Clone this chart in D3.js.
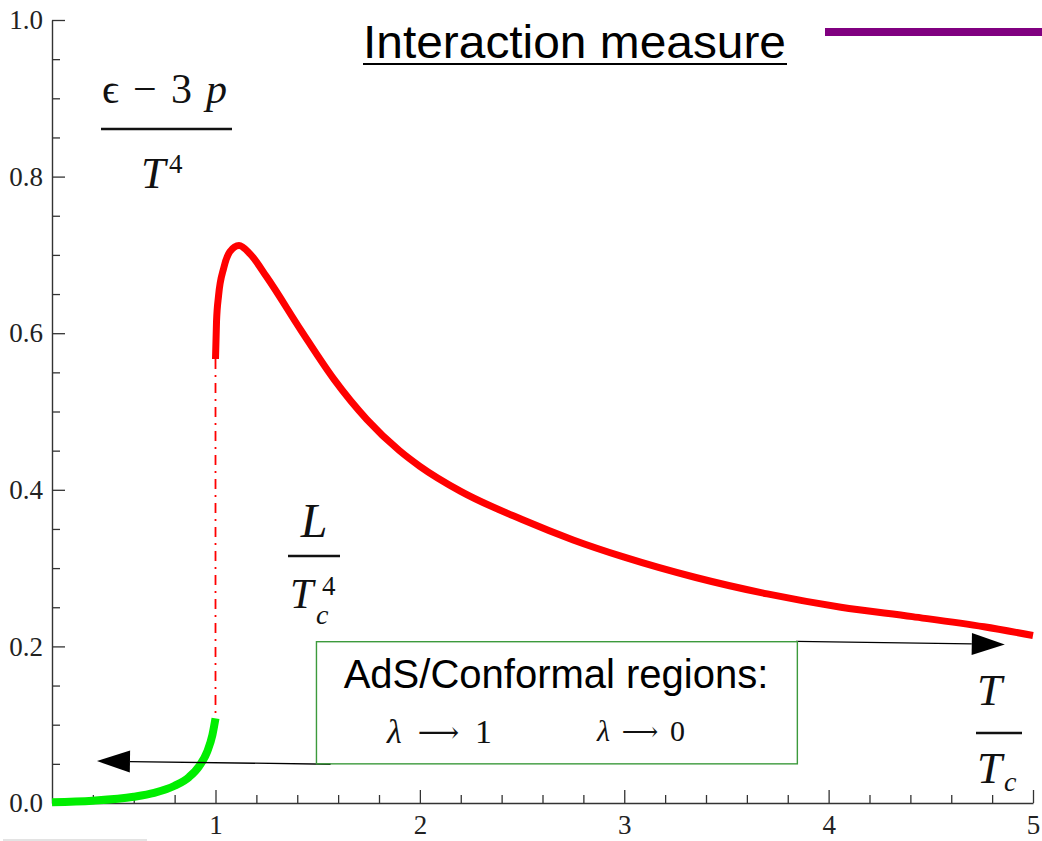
<!DOCTYPE html>
<html>
<head>
<meta charset="utf-8">
<script src="https://cdn.jsdelivr.net/npm/d3@7"></script>
<style>
  body { margin: 0; background: #fff; }
  svg { display: block; }
  .math { font-family: "Liberation Serif", "DejaVu Serif", serif; fill: #111; }
  .sans { font-family: "Liberation Sans", Arial, sans-serif; fill: #000; }
</style>
</head>
<body>
<div id="chart"></div>
<script>
// Chart values
const greenX = [0.2, 0.4, 0.6, 0.7, 0.8, 0.87, 0.92, 0.96, 0.985, 1.0];
const greenY = [0.001, 0.003, 0.008, 0.013, 0.022, 0.033, 0.047, 0.066, 0.087, 0.108];

const redX = [1.0, 1.005, 1.015, 1.04, 1.07, 1.115, 1.17, 1.25, 1.42, 1.58, 1.74, 1.9, 2.0, 2.2, 2.5, 2.75, 3.0, 3.35, 3.7, 4.06, 4.41, 4.76, 5.0];
const redY = [0.567, 0.615, 0.648, 0.683, 0.704, 0.712, 0.701, 0.672, 0.603, 0.541, 0.490, 0.450, 0.430, 0.398, 0.362, 0.336, 0.314, 0.288, 0.267, 0.250, 0.238, 0.225, 0.214];

// latent heat jump at Tc
const jumpX = 1.0;
const jumpY = [0.108, 0.567];

const xMajorTicks = [1, 2, 3, 4, 5];
const xMinorTicks = [0.4, 0.6, 0.8, 1.2, 1.4, 1.6, 1.8, 2.2, 2.4, 2.6, 2.8, 3.2, 3.4, 3.6, 3.8, 4.2, 4.4, 4.6, 4.8];
const yMajorTicks = [0, 0.2, 0.4, 0.6, 0.8, 1.0];
const yMinorTicks = [0.05, 0.1, 0.15, 0.25, 0.3, 0.35, 0.45, 0.5, 0.55, 0.65, 0.7, 0.75, 0.85, 0.9, 0.95];

const W = 1042, H = 841;

const svg = d3.select("#chart").append("svg")
    .attr("width", W)
    .attr("height", H);

svg.append("rect").attr("width", W).attr("height", H).attr("fill", "#fff");

const x = d3.scaleLinear().domain([0.2, 5]).range([52, 1033]);
const y = d3.scaleLinear().domain([0, 1]).range([803, 20]);

function serifLabels(g) {
    g.selectAll("text")
        .style("font-family", "'Liberation Serif', 'DejaVu Serif', serif")
        .style("font-size", "27px")
        .attr("fill", "#222");
}

// Axes (ticks point inward, Mathematica style)
svg.append("g")
    .attr("transform", `translate(0,${y(0)})`)
    .call(d3.axisBottom(x).tickValues(xMajorTicks).tickFormat(d3.format("d"))
        .tickSizeInner(-13).tickSizeOuter(0).tickPadding(12))
    .call(serifLabels);

svg.append("g")
    .attr("transform", `translate(0,${y(0)})`)
    .call(d3.axisBottom(x).tickValues(xMinorTicks).tickFormat("")
        .tickSizeInner(-8).tickSizeOuter(0))
    .call(g => g.select(".domain").remove());

svg.append("g")
    .attr("transform", `translate(${x(0.2)},0)`)
    .call(d3.axisLeft(y).tickValues(yMajorTicks).tickFormat(d3.format(".1f"))
        .tickSizeInner(-13).tickSizeOuter(0).tickPadding(9))
    .call(serifLabels);

svg.append("g")
    .attr("transform", `translate(${x(0.2)},0)`)
    .call(d3.axisLeft(y).tickValues(yMinorTicks).tickFormat("")
        .tickSizeInner(-8).tickSizeOuter(0))
    .call(g => g.select(".domain").remove());

svg.selectAll(".domain").attr("stroke", "#333").attr("stroke-width", 1.4);
svg.selectAll(".tick line").attr("stroke", "#333").attr("stroke-width", 1.3);

// faint line under the axis
svg.append("line")
    .attr("x1", 3).attr("x2", 147)
    .attr("y1", 840).attr("y2", 840)
    .attr("stroke", "#c8c8c8").attr("stroke-width", 1.2);

const line = d3.line()
    .x(d => x(d[0]))
    .y(d => y(d[1]))
    .curve(d3.curveMonotoneX);

// dash-dot jump
svg.append("line")
    .attr("x1", x(jumpX)).attr("x2", x(jumpX))
    .attr("y1", y(jumpY[1])).attr("y2", y(jumpY[0]))
    .attr("stroke", "#ff0000")
    .attr("stroke-width", 1.8)
    .attr("stroke-dasharray", "10,6,2,6");

svg.append("path")
    .datum(greenX.map((v, i) => [v, greenY[i]]))
    .attr("d", line)
    .attr("fill", "none")
    .attr("stroke", "#00ee00")
    .attr("stroke-width", 8);

svg.append("path")
    .datum(redX.map((v, i) => [v, redY[i]]))
    .attr("d", line)
    .attr("fill", "none")
    .attr("stroke", "#ff0000")
    .attr("stroke-width", 7);

// Annotation box and arrows
const box = { x0: 1.494, x1: 3.847, y0: 0.05, y1: 0.206 };

function arrow(from, to) {
    const x1 = x(from[0]), y1 = y(from[1]), x2 = x(to[0]), y2 = y(to[1]);
    const ang = Math.atan2(y2 - y1, x2 - x1);
    const len = 33, half = 11;
    const bx = x2 - len * Math.cos(ang), by = y2 - len * Math.sin(ang);
    svg.append("line")
        .attr("x1", x1).attr("y1", y1).attr("x2", bx).attr("y2", by)
        .attr("stroke", "#000").attr("stroke-width", 1.3);
    const pts = [
        [x2, y2],
        [bx - half * Math.sin(ang), by + half * Math.cos(ang)],
        [bx + half * Math.sin(ang), by - half * Math.cos(ang)]
    ];
    svg.append("path")
        .attr("d", "M" + pts.join("L") + "Z")
        .attr("fill", "#000");
}

arrow([3.84, 0.2065], [4.862, 0.2025]);
arrow([1.563, 0.0495], [0.42, 0.0535]);

svg.append("rect")
    .attr("x", x(box.x0)).attr("y", y(box.y1))
    .attr("width", x(box.x1) - x(box.x0))
    .attr("height", y(box.y0) - y(box.y1))
    .attr("fill", "none")
    .attr("stroke", "#3c9a3c")
    .attr("stroke-width", 1.4);

svg.append("text").attr("class", "sans")
    .attr("x", 556).attr("y", 688)
    .attr("text-anchor", "middle")
    .attr("font-size", 40)
    .text("AdS/Conformal regions:");

function lambdaLabel(x0, yb, size, len, target) {
    svg.append("text").attr("class", "math")
        .attr("x", x0).attr("y", yb)
        .attr("font-size", size)
        .attr("textLength", len)
        .attr("lengthAdjust", "spacing")
        .call(t => {
            t.append("tspan").attr("font-style", "italic").text("λ");
            t.append("tspan").attr("font-family", "DejaVu Serif, DejaVu Sans, serif")
                .attr("font-size", size * 0.85).attr("dy", -1).text(" ⟶ ");
            t.append("tspan").attr("dy", 1).text(target);
        });
}
lambdaLabel(387, 743, 34, 105, "1");
lambdaLabel(597, 741, 30, 88, "0");

// Title and legend line
svg.append("text").attr("class", "sans")
    .attr("x", 363).attr("y", 58)
    .attr("font-size", 47)
    .attr("textLength", 423)
    .attr("lengthAdjust", "spacingAndGlyphs")
    .text("Interaction measure");
svg.append("line")
    .attr("x1", 363).attr("x2", 787)
    .attr("y1", 64).attr("y2", 64)
    .attr("stroke", "#000").attr("stroke-width", 2);

svg.append("line")
    .attr("x1", 825).attr("x2", 1042)
    .attr("y1", 32).attr("y2", 32)
    .attr("stroke", "#800080").attr("stroke-width", 8);

// (ϵ − 3p) / T^4
svg.append("text").attr("class", "math")
    .attr("x", 102).attr("y", 103)
    .attr("font-size", 42)
    .attr("textLength", 125)
    .attr("lengthAdjust", "spacing")
    .call(t => {
        t.append("tspan").text("ϵ − 3 ");
        t.append("tspan").attr("font-style", "italic").text("p");
    });
svg.append("line")
    .attr("x1", 101).attr("x2", 232).attr("y1", 129).attr("y2", 129)
    .attr("stroke", "#111").attr("stroke-width", 2.5);
svg.append("text").attr("class", "math")
    .attr("x", 141).attr("y", 188)
    .attr("font-size", 44).attr("font-style", "italic")
    .text("T");
svg.append("text").attr("class", "math")
    .attr("x", 169).attr("y", 173)
    .attr("font-size", 27)
    .text("4");

// L / Tc^4
svg.append("text").attr("class", "math")
    .attr("x", 314).attr("y", 537)
    .attr("text-anchor", "middle")
    .attr("font-size", 48).attr("font-style", "italic")
    .text("L");
svg.append("line")
    .attr("x1", 288).attr("x2", 340).attr("y1", 556).attr("y2", 556)
    .attr("stroke", "#111").attr("stroke-width", 2.5);
svg.append("text").attr("class", "math")
    .attr("x", 290).attr("y", 608)
    .attr("font-size", 42).attr("font-style", "italic")
    .text("T");
svg.append("text").attr("class", "math")
    .attr("x", 322).attr("y", 595)
    .attr("font-size", 27)
    .text("4");
svg.append("text").attr("class", "math")
    .attr("x", 316).attr("y", 624)
    .attr("font-size", 28).attr("font-style", "italic")
    .text("c");

// T / Tc
svg.append("text").attr("class", "math")
    .attr("x", 977).attr("y", 705)
    .attr("font-size", 45).attr("font-style", "italic")
    .text("T");
svg.append("line")
    .attr("x1", 976).attr("x2", 1022).attr("y1", 733).attr("y2", 733)
    .attr("stroke", "#111").attr("stroke-width", 2.5);
svg.append("text").attr("class", "math")
    .attr("x", 977).attr("y", 783)
    .attr("font-size", 45).attr("font-style", "italic")
    .text("T");
svg.append("text").attr("class", "math")
    .attr("x", 1004).attr("y", 791)
    .attr("font-size", 28).attr("font-style", "italic")
    .text("c");
</script>
</body>
</html>
